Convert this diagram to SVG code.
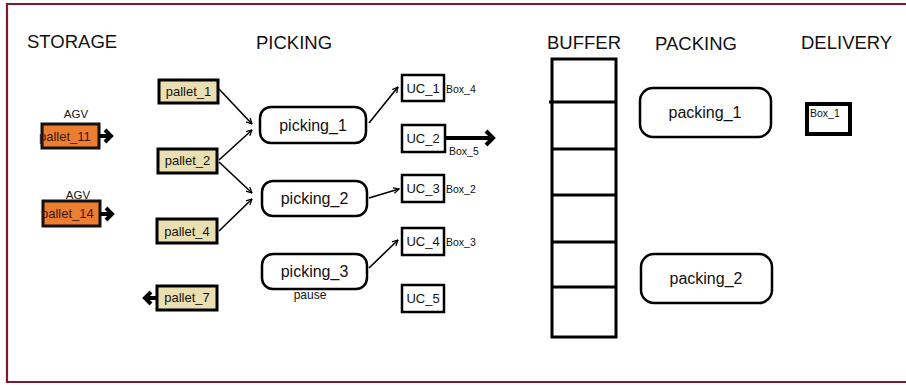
<svg xmlns="http://www.w3.org/2000/svg" width="906" height="385" viewBox="0 0 906 385">
  <style>
    text { font-family: "Liberation Sans", Arial, sans-serif; fill: #111; }
    .hdr { font-size: 18.5px; }
    .pallet { fill: #EADFB0; stroke: #000; stroke-width: 3; }
    .agv { fill: #ED7D31; stroke: #111; stroke-width: 3; }
    .uc { fill: #fff; stroke: #000; stroke-width: 2.5; }
    .proc { fill: #fff; stroke: #000; stroke-width: 2.5; }
    .lbl13 { font-size: 13px; }
    .lbl16 { font-size: 16px; }
    .small { font-size: 10.5px; }
    .thin { stroke: #000; stroke-width: 1.6; fill: none; marker-end: url(#vhead); }
    .thick { stroke: #000; stroke-width: 4; fill: none; }
    .thickhead { fill: none; stroke: #000; stroke-width: 4; stroke-linejoin: miter; stroke-linecap: butt; }
  </style>
  <defs>
    <marker id="vhead" viewBox="0 0 10 10" refX="9" refY="5" markerWidth="7" markerHeight="7" orient="auto" markerUnits="userSpaceOnUse">
      <path d="M1,1 L9,5 L1,9" fill="none" stroke="#000" stroke-width="1.8"/>
    </marker>
  </defs>

  <rect width="906" height="385" fill="#fff"/>
  <!-- outer frame -->
  <path d="M910,4 L7,4 L7,382 L910,382" fill="none" stroke="#7B1C2C" stroke-width="2.2"/>

  <!-- section headers -->
  <g id="headers">
    <text class="hdr" x="27" y="48">STORAGE</text>
    <text class="hdr" x="256" y="49">PICKING</text>
    <text class="hdr" x="547" y="49">BUFFER</text>
    <text class="hdr" x="655" y="50">PACKING</text>
    <text class="hdr" x="801" y="49">DELIVERY</text>
  </g>

  <!-- storage: AGV pallets -->
  <g id="pallet_11">
    <text x="76" y="118" text-anchor="middle" style="font-size:11.5px">AGV</text>
    <rect class="agv" x="42" y="124" width="57" height="24"/>
    <text class="lbl13" x="39" y="141" style="fill:#3a1a12">pallet_11</text>
  </g>
  <g id="pallet_14">
    <text x="78" y="199" text-anchor="middle" style="font-size:11.5px">AGV</text>
    <rect class="agv" x="43" y="201" width="57" height="25"/>
    <text class="lbl13" x="41" y="218" style="fill:#3a1a12">pallet_14</text>
  </g>

  <!-- storage: pallets for picking -->
  <g id="pallet_1">
    <rect class="pallet" x="159" y="80" width="59" height="23"/>
    <text class="lbl13" x="188.5" y="96" text-anchor="middle">pallet_1</text>
  </g>
  <g id="pallet_2">
    <rect class="pallet" x="158" y="149" width="59" height="24"/>
    <text class="lbl13" x="187.5" y="165" text-anchor="middle">pallet_2</text>
  </g>
  <g id="pallet_4">
    <rect class="pallet" x="157" y="219" width="60" height="24"/>
    <text class="lbl13" x="187" y="236" text-anchor="middle">pallet_4</text>
  </g>
  <g id="pallet_7">
    <rect class="pallet" x="157" y="286" width="60" height="24"/>
    <text class="lbl13" x="187" y="302" text-anchor="middle">pallet_7</text>
  </g>

  <!-- picking stations -->
  <g id="picking_1">
    <rect class="proc" x="260" y="107" width="106" height="36" rx="11"/>
    <text class="lbl16" x="313" y="131" text-anchor="middle">picking_1</text>
  </g>
  <g id="picking_2">
    <rect class="proc" x="262" y="181" width="105" height="35" rx="11"/>
    <text class="lbl16" x="314.5" y="204" text-anchor="middle">picking_2</text>
  </g>
  <g id="picking_3">
    <rect class="proc" x="262" y="254" width="105" height="35" rx="11"/>
    <text class="lbl16" x="314.5" y="277" text-anchor="middle">picking_3</text>
    <text x="310" y="299" text-anchor="middle" style="font-size:12px">pause</text>
  </g>

  <!-- unit containers -->
  <g id="UC_1">
    <rect class="uc" x="402" y="75" width="42" height="26"/>
    <text class="lbl13" x="423" y="93" text-anchor="middle">UC_1</text>
    <text class="small" x="446" y="93">Box_4</text>
  </g>
  <g id="UC_2">
    <rect class="uc" x="402" y="125" width="43" height="27"/>
    <text class="lbl13" x="423" y="143" text-anchor="middle">UC_2</text>
    <text class="small" x="449" y="155" style="font-size:10.5px">Box_5</text>
  </g>
  <g id="UC_3">
    <rect class="uc" x="402" y="175" width="42" height="27"/>
    <text class="lbl13" x="423" y="193" text-anchor="middle">UC_3</text>
    <text class="small" x="446" y="193">Box_2</text>
  </g>
  <g id="UC_4">
    <rect class="uc" x="402" y="228" width="42" height="27"/>
    <text class="lbl13" x="423" y="246" text-anchor="middle">UC_4</text>
    <text class="small" x="446" y="246">Box_3</text>
  </g>
  <g id="UC_5">
    <rect class="uc" x="402" y="285" width="42" height="27"/>
    <text class="lbl13" x="423" y="303" text-anchor="middle">UC_5</text>
  </g>

  <!-- buffer rack -->
  <g id="buffer">
    <rect x="552" y="59" width="64" height="278" fill="#fff" stroke="#000" stroke-width="3"/>
    <path d="M549,102 H616 M552,149 H616 M552,195 H616 M552,242 H616 M552,287 H616" stroke="#000" stroke-width="3"/>
  </g>

  <!-- packing stations -->
  <g id="packing_1">
    <rect class="proc" x="640" y="88" width="131" height="49" rx="13"/>
    <text class="lbl16" x="705" y="118" text-anchor="middle">packing_1</text>
  </g>
  <g id="packing_2">
    <rect class="proc" x="641" y="254" width="131" height="49" rx="13"/>
    <text class="lbl16" x="706" y="284" text-anchor="middle">packing_2</text>
  </g>

  <!-- delivery -->
  <g id="Box_1">
    <rect x="807" y="104" width="43" height="30" fill="#fff" stroke="#000" stroke-width="4"/>
    <text class="small" x="810" y="117">Box_1</text>
  </g>

  <!-- connectors -->
  <g id="connectors">
    <path class="thin" d="M219,89 L252,124"/>
    <path class="thin" d="M219,160 L252,130"/>
    <path class="thin" d="M219,162 L252,193"/>
    <path class="thin" d="M219,231 L252,199"/>
    <path class="thin" d="M369,123 L398,87"/>
    <path class="thin" d="M369,198 L399,189"/>
    <path class="thin" d="M369,268 L398,240"/>

    <!-- AGV transport arrows -->
    <path class="thick" d="M99,136 H109"/>
    <path class="thickhead" d="M105,130 L111,136 L105,142"/>
    <path class="thick" d="M100,214 H110"/>
    <path class="thickhead" d="M106,208 L112,214 L106,220"/>
    <!-- pallet return arrow -->
    <path class="thick" d="M157,298 H147"/>
    <path class="thickhead" d="M151,292 L145,298 L151,304"/>
    <!-- box out of UC_2 -->
    <path class="thick" d="M445,138 H491"/>
    <path class="thickhead" d="M486,131 L493,138 L486,145"/>
  </g>
</svg>
